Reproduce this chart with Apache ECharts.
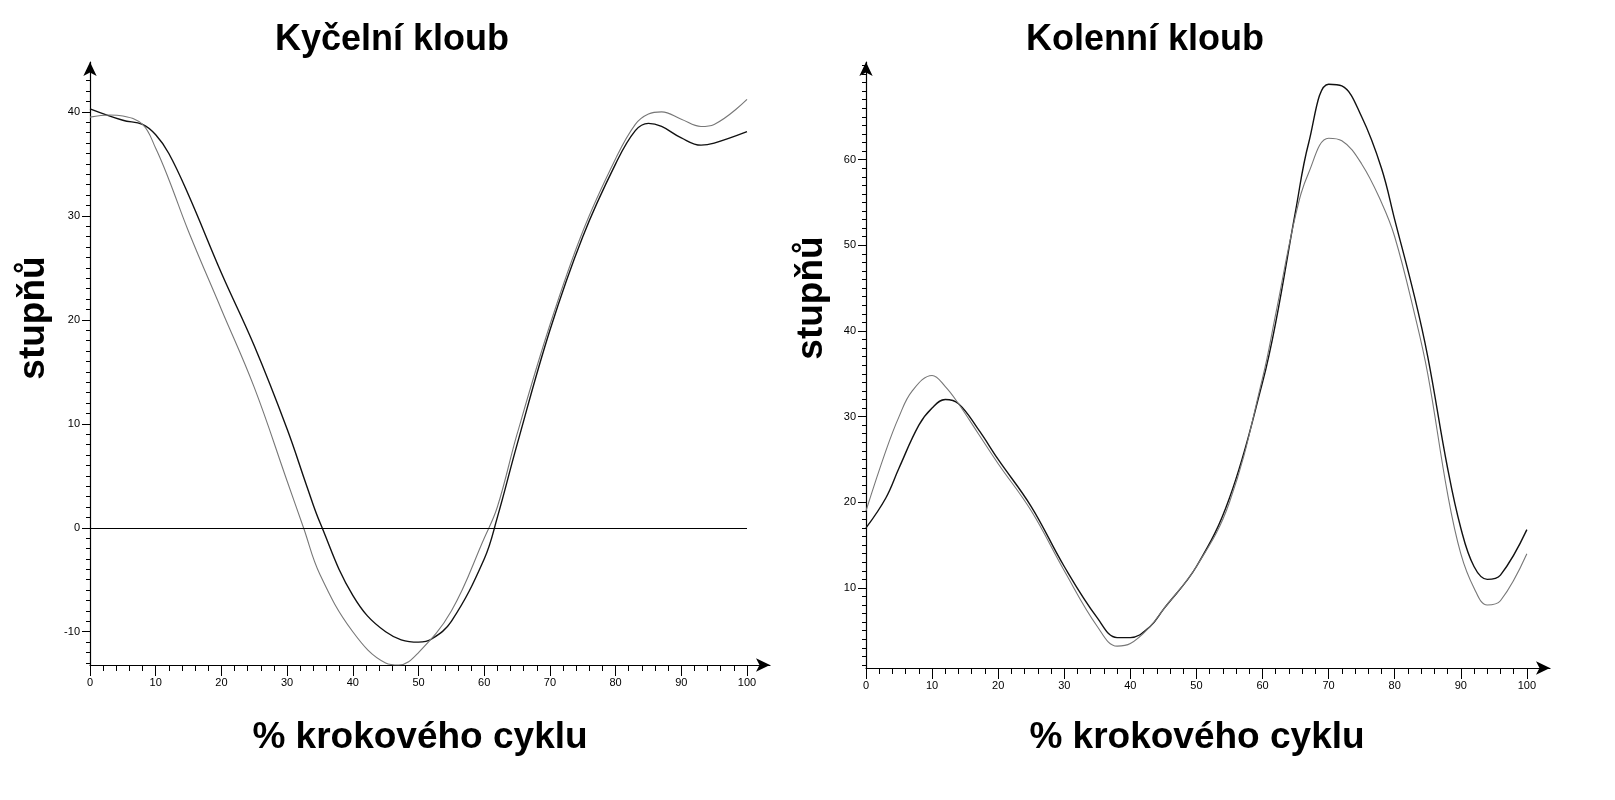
<!DOCTYPE html>
<html><head><meta charset="utf-8">
<script src="https://cdn.jsdelivr.net/npm/echarts@6/dist/echarts.min.js"></script>
<style>html,body{margin:0;padding:0;background:#fff}#c{width:1615px;height:800px}</style>
</head><body><div id="c"></div>
<script>
const hipX1 = [0,5,8,10,12,15,20,25,30,33,35,40,45,50,52,55,60,62,65,70,75,80,83,85,87,90,93,95,100];
const hipY1 = [40.3,39.2,38.8,37.8,36,32,24.5,17.5,9.5,4,0.5,-6.5,-10,-11,-10.7,-9,-3,1,8,19,28,35,38.2,38.9,38.6,37.5,36.8,37,38.1];
const hipX2 = [0,3,5,8,10,12,15,20,25,30,32.5,35,40,45,47,50,55,60,62,65,70,75,80,83,85,87,90,93,95,100];
const hipY2 = [39.5,39.7,39.6,38.8,36.5,33.5,28.5,21,13.5,4.5,0,-4.5,-10,-13,-13.2,-12,-8,-1,2,9,19.5,28.5,35.5,38.8,39.8,40,39.3,38.6,38.8,41.2];
const kneeX1 = [0,3,5,8,10,12,14,17,20,25,30,35,38,40,43,45,50,55,60,62,65,67,70,72,75,78,80,83,85,88,90,92,94,96,100];
const kneeY1 = [17,20.5,24,29,31,32,31.5,28.5,25,19.5,12.5,6.5,4.2,4.2,5.5,7.5,12.5,20.5,34,41,54,62,68.8,68.6,65,59,53,44,37,24,17,12.5,11,11.5,16.8];
const kneeX2 = [0,3,5,7,10,12,14,17,20,25,30,35,38,40,43,45,50,55,60,62,65,67,70,72,75,78,80,83,85,88,90,92,94,96,100];
const kneeY2 = [19,26,30,33,34.8,33.5,31.5,28,24.5,19,12,5.5,3.2,3.5,5.5,7.5,12.5,20,34.5,42,53.5,58.5,62.5,62.2,59.5,55,51,42,35,21,14,10,8,8.5,14];
const xLabels = [0,10,20,30,40,50,60,70,80,90,100];
const hipYLabels = [-10,0,10,20,30,40];
const kneeYLabels = [10,20,30,40,50,60];

const pairs = (xs, ys) => xs.map((x, i) => [x, ys[i]]);
const range = (a, b, s) => { const r = []; for (let v = a; v <= b + 1e-9; v += s) r.push(+v.toFixed(3)); return r; };
const font = 'Arial, "Liberation Sans", sans-serif';

const grids = [
  {left: 90, top: 62, width: 680, height: 603},
  {left: 866, top: 62, width: 684, height: 606}
];
const yRanges = [[-13.2, 44.8], [0.65, 71.4]];
const yLab = [hipYLabels, kneeYLabels];

const xAxis = [], yAxis = [];
[0, 1].forEach(g => {
  xAxis.push({type: 'value', gridIndex: g, min: 0, max: 103.5, splitLine: {show: false},
    axisLine: {onZero: false, lineStyle: {color: '#000', width: 1.2}, symbol: ['none', 'arrow'], symbolSize: [10, 14]},
    axisTick: {customValues: range(0, 100, 2), length: 6, lineStyle: {color: '#000'}},
    axisLabel: {customValues: xLabels, color: '#000', fontSize: 11, fontFamily: font, margin: 12}});
  xAxis.push({type: 'value', gridIndex: g, min: 0, max: 103.5, position: 'bottom', splitLine: {show: false},
    axisLine: {show: false, onZero: false}, axisTick: {customValues: xLabels, length: 11, lineStyle: {color: '#000'}}, axisLabel: {show: false}});
  const [mn, mx] = yRanges[g];
  yAxis.push({type: 'value', gridIndex: g, min: mn, max: mx, splitLine: {show: false},
    axisLine: {show: true, onZero: false, lineStyle: {color: '#000', width: 1.2}, symbol: ['none', 'arrow'], symbolSize: [10, 14]},
    axisTick: {show: true, customValues: range(Math.ceil(mn), Math.floor(mx), 1), length: 4, lineStyle: {color: '#000'}},
    axisLabel: {customValues: yLab[g], color: '#000', fontSize: 11, fontFamily: font, margin: 10}});
  yAxis.push({type: 'value', gridIndex: g, min: mn, max: mx, position: 'left', splitLine: {show: false},
    axisLine: {show: false, onZero: false}, axisTick: {show: true, customValues: yLab[g], length: 8, lineStyle: {color: '#000'}}, axisLabel: {show: false}});
});

const mk = (xi, yi, data, color, width) => ({type: 'line', xAxisIndex: xi, yAxisIndex: yi, data, smooth: 0.4,
  showSymbol: false, lineStyle: {color, width}, silent: true});

const series = [
  mk(0, 0, pairs(hipX1, hipY1), '#111', 1.4),
  Object.assign(mk(0, 0, pairs(hipX2, hipY2), '#777', 1.1),
    {markLine: {silent: true, symbol: 'none', label: {show: false}, lineStyle: {color: '#000', type: 'solid', width: 1.2},
      data: [[{coord: [0, 0]}, {coord: [100, 0]}]]}}),
  mk(2, 2, pairs(kneeX1, kneeY1), '#111', 1.4),
  mk(2, 2, pairs(kneeX2, kneeY2), '#777', 1.1)
];

const chart = echarts.init(document.getElementById('c'));
chart.setOption({
  animation: false, backgroundColor: '#fff',
  grid: grids, xAxis, yAxis, series,
  graphic: [
    {type: 'text', x: 392, y: 40, style: {text: 'Kyčelní kloub', font: 'bold 36px ' + font, fill: '#000', align: 'center', verticalAlign: 'middle'}},
    {type: 'text', x: 1145, y: 40, style: {text: 'Kolenní kloub', font: 'bold 36px ' + font, fill: '#000', align: 'center', verticalAlign: 'middle'}},
    {type: 'text', x: 420, y: 738, style: {text: '% krokového cyklu', font: 'bold 37px ' + font, fill: '#000', align: 'center', verticalAlign: 'middle'}},
    {type: 'text', x: 1197, y: 738, style: {text: '% krokového cyklu', font: 'bold 37px ' + font, fill: '#000', align: 'center', verticalAlign: 'middle'}},
    {type: 'text', x: 34, y: 318, rotation: Math.PI / 2, style: {text: 'stupňů', font: 'bold 37px ' + font, fill: '#000', align: 'center', verticalAlign: 'middle'}},
    {type: 'text', x: 812, y: 298, rotation: Math.PI / 2, style: {text: 'stupňů', font: 'bold 37px ' + font, fill: '#000', align: 'center', verticalAlign: 'middle'}}
  ]
});
</script></body></html>
